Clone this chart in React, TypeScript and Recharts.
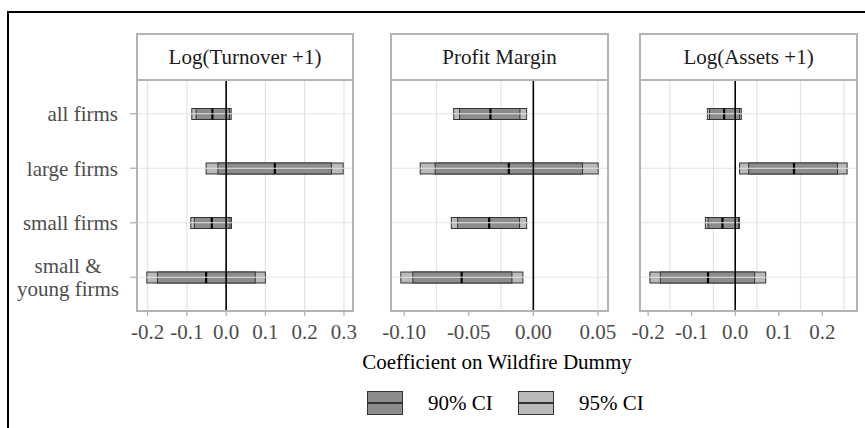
import React from "react";
import {
  ComposedChart, Bar, XAxis, YAxis, CartesianGrid, ReferenceLine,
} from "recharts";

const groups = ["all firms", "large firms", "small firms", "small & young firms"];
const groupLines = [["all firms"], ["large firms"], ["small firms"], ["small &", "young firms"]];

// Log(Turnover +1)
const turnEst = [-0.035, 0.124, -0.0365, -0.051];
const turnLo90 = [-0.0765, -0.021, -0.081, -0.175];
const turnHi90 = [0.0085, 0.268, 0.010, 0.074];
const turnLo95 = [-0.0875, -0.051, -0.090, -0.202];
const turnHi95 = [0.0128, 0.298, 0.0135, 0.100];

// Profit Margin
const profEst = [-0.0332, -0.019, -0.0342, -0.0555];
const profLo90 = [-0.0571, -0.076, -0.0586, -0.0933];
const profHi90 = [-0.0104, 0.0381, -0.0107, -0.0166];
const profLo95 = [-0.0617, -0.0876, -0.0635, -0.1026];
const profHi95 = [-0.0052, 0.0502, -0.0052, -0.0081];

// Log(Assets +1)
const assEst = [-0.0254, 0.135, -0.0293, -0.0624];
const assLo90 = [-0.059, 0.031, -0.0624, -0.172];
const assHi90 = [0.010, 0.235, 0.0076, 0.0446];
const assLo95 = [-0.064, 0.010, -0.0686, -0.196];
const assHi95 = [0.0139, 0.257, 0.0099, 0.070];

const turnTicks = [-0.2, -0.1, 0, 0.1, 0.2, 0.3];
const turnGrid = [-0.2, -0.15, -0.1, -0.05, 0, 0.05, 0.1, 0.15, 0.2, 0.25, 0.3];
const profTicks = [-0.1, -0.05, 0, 0.05];
const profGrid = [-0.1, -0.075, -0.05, -0.025, 0, 0.025, 0.05];
const assTicks = [-0.2, -0.1, 0, 0.1, 0.2];
const assGrid = [-0.2, -0.15, -0.1, -0.05, 0, 0.05, 0.1, 0.15, 0.2, 0.25];

const legendLabels = ["90% CI", "95% CI"];

const FONT = '"Liberation Serif", "Times New Roman", serif';
const FS = 21;
const C90 = "#8c8c8c";
const C95 = "#bababa";
const BORDER = "#b3b3b3";
const GRID = "#e3e3e3";

const build = (est: number[], lo90: number[], hi90: number[], lo95: number[], hi95: number[]) =>
  groups.map((g, i) => ({ group: g, est: est[i], lo90: lo90[i], hi90: hi90[i], lo95: lo95[i], hi95: hi95[i] }));

const panels = [
  { title: "Log(Turnover +1)", data: build(turnEst, turnLo90, turnHi90, turnLo95, turnHi95), domain: [-0.227, 0.323], ticks: turnTicks, grid: turnGrid, dec: 1, left: 137, width: 216, first: true },
  { title: "Profit Margin", data: build(profEst, profLo90, profHi90, profLo95, profHi95), domain: [-0.1102, 0.0578], ticks: profTicks, grid: profGrid, dec: 2, left: 391, width: 217, first: false },
  { title: "Log(Assets +1)", data: build(assEst, assLo90, assHi90, assLo95, assHi95), domain: [-0.2187, 0.2797], ticks: assTicks, grid: assGrid, dec: 1, left: 640, width: 217, first: false },
];

const PLOT_TOP = 80;
const PLOT_H = 231;
const Y_W = 137;

function RangeShape(props: any) {
  const { x, y, width, height, payload, fill, est } = props;
  const r = (
    <rect x={x} y={y} width={Math.max(width, 0)} height={height} fill={fill} stroke="#333" strokeWidth={1} />
  );
  if (!est) return <g>{r}</g>;
  const ex = x + (width * (payload.est - payload.lo90)) / (payload.hi90 - payload.lo90);
  return (
    <g>
      {r}
      <line x1={ex} x2={ex} y1={y} y2={y + height} stroke="#000" strokeWidth={2.2} />
    </g>
  );
}

function GroupTick(props: any) {
  const { x, y, index } = props;
  const lines = groupLines[index] || [props.payload.value];
  if (lines.length === 1) {
    return (
      <text x={x} y={y} dy="0.35em" textAnchor="end" fill="#4d4d4d" fontSize={FS} fontFamily={FONT}>
        {lines[0]}
      </text>
    );
  }
  return (
    <text x={x - 50} y={y} textAnchor="middle" fill="#4d4d4d" fontSize={FS} fontFamily={FONT}>
      {lines.map((l, i) => (
        <tspan key={i} x={x - 50} dy={i === 0 ? "-0.2em" : "1.1em"}>{l}</tspan>
      ))}
    </text>
  );
}

function Panel({ p }: { p: (typeof panels)[number] }) {
  const w = p.width + (p.first ? Y_W : 0);
  return (
    <div style={{ position: "absolute", left: p.left - (p.first ? Y_W : 0), top: PLOT_TOP }}>
      <ComposedChart
        layout="vertical"
        width={w}
        height={PLOT_H + 40}
        data={p.data}
        margin={{ top: 0, right: 0, bottom: 0, left: 0 }}
      >
        <XAxis
          xAxisId="main"
          type="number"
          domain={p.domain}
          ticks={p.ticks}
          allowDataOverflow
          height={40}
          axisLine={false}
          tickLine={{ stroke: BORDER, strokeWidth: 1.3 }}
          tickSize={5}
          tickMargin={8}
          interval={0}
          tick={{ fill: "#4d4d4d", fontSize: FS, fontFamily: FONT }}
          tickFormatter={(v: number) => v.toFixed(p.dec)}
        />
        <XAxis xAxisId="grid" type="number" domain={p.domain} ticks={p.grid} allowDataOverflow hide height={0} />
        <YAxis
          yAxisId="a"
          type="category"
          dataKey="group"
          width={p.first ? Y_W : 0}
          hide={!p.first}
          padding={{ top: 6.5, bottom: 6.5 }}
          axisLine={false}
          tickLine={{ stroke: BORDER, strokeWidth: 1.3 }}
          tickSize={7}
          tickMargin={12}
          interval={0}
          tick={<GroupTick />}
        />
        <YAxis yAxisId="b" type="category" dataKey="group" hide width={0} padding={{ top: 6.5, bottom: 6.5 }} />
        <CartesianGrid xAxisId="grid" yAxisId="a" horizontal={false} stroke={GRID} strokeWidth={1.2} />
        {p.data.map((d) => (
          <ReferenceLine key={d.group} xAxisId="main" yAxisId="a" y={d.group} stroke={GRID} strokeWidth={1.2} />
        ))}
        <Bar
          xAxisId="main"
          yAxisId="a"
          dataKey={(d: any) => [d.lo95, d.hi95]}
          barSize={11}
          fill={C95}
          isAnimationActive={false}
          shape={(s: any) => <RangeShape {...s} fill={C95} est={false} />}
        />
        <Bar
          xAxisId="main"
          yAxisId="b"
          dataKey={(d: any) => [d.lo90, d.hi90]}
          barSize={11}
          fill={C90}
          isAnimationActive={false}
          shape={(s: any) => <RangeShape {...s} fill={C90} est={true} />}
        />
        <ReferenceLine xAxisId="main" yAxisId="a" x={0} stroke="#000" strokeWidth={1.6} />
      </ComposedChart>
      <div
        style={{
          position: "absolute", left: (p.first ? Y_W : 0) - 1, top: -1, width: p.width + 2, height: PLOT_H + 2,
          border: `2px solid ${BORDER}`, boxSizing: "border-box", pointerEvents: "none",
        }}
      />
    </div>
  );
}

export default function App() {
  return (
    <div style={{ position: "absolute", left: 0, top: 0, width: 865, height: 428, overflow: "hidden", background: "#fff", fontFamily: FONT }}>
      <style>{".recharts-surface, .recharts-wrapper { overflow: visible !important; }"}</style>
      <div style={{ position: "absolute", left: 7, top: 11, width: 950, height: 520, border: "2px solid #000" }} />
      {panels.map((p) => (
        <div
          key={p.title + "strip"}
          style={{
            position: "absolute", left: p.left - 1, top: 33, width: p.width + 2, height: PLOT_TOP - 33 + 1,
            border: `2px solid ${BORDER}`, boxSizing: "border-box", background: "#fff",
            display: "flex", alignItems: "center", justifyContent: "center", fontSize: FS, color: "#1a1a1a",
          }}
        >
          {p.title}
        </div>
      ))}
      {panels.map((p) => <Panel key={p.title} p={p} />)}
      <div style={{ position: "absolute", left: 137, width: 720, top: 349, textAlign: "center", fontSize: FS, lineHeight: "26px", color: "#000" }}>
        Coefficient on Wildfire Dummy
      </div>
      {legendLabels.map((l, i) => (
        <React.Fragment key={l}>
          <div
            style={{
              position: "absolute", left: i === 0 ? 367 : 518, top: 391, width: 36, height: 24,
              background: i === 0 ? C90 : C95, border: "1.5px solid #333", boxSizing: "border-box",
            }}
          >
            <div style={{ position: "absolute", left: 0, right: 0, top: 10, height: 1.5, background: "#333" }} />
          </div>
          <div style={{ position: "absolute", left: i === 0 ? 428 : 579, top: 390, fontSize: FS, lineHeight: "26px", color: "#000" }}>
            {l}
          </div>
        </React.Fragment>
      ))}
    </div>
  );
}
